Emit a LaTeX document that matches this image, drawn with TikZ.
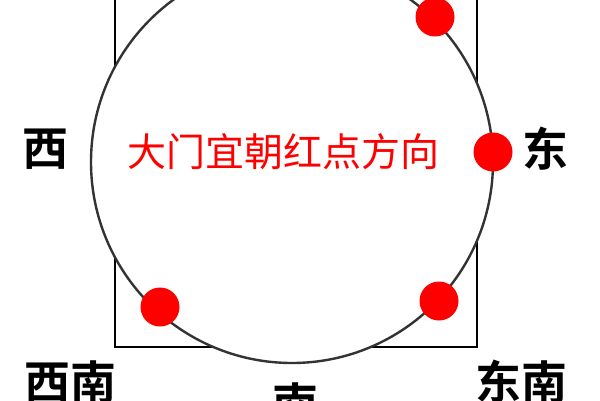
\documentclass[tikz,border=0pt]{standalone}
\usepackage{fontspec}
\newfontfamily\cjk{Noto Sans CJK SC}
\newfontfamily\cjkb{Noto Sans CJK SC Bold}
\begin{document}
\begin{tikzpicture}[x=1pt,y=-1pt,
  dir/.style={font=\cjkb\fontsize{46}{46}\selectfont, inner sep=0pt, anchor=center},
  dot/.style={circle, fill=red, minimum size=39pt, inner sep=0pt},
  note/.style={font=\cjk\fontsize{39}{39}\selectfont, text=red, inner sep=0pt, anchor=center}]
\useasboundingbox (0,0) rectangle (600,400);
\clip (0,0) rectangle (600,400);
\fill[white] (0,0) rectangle (600,400);
\draw[black, line width=2.6pt] (115,-10) -- (115,347) -- (477,347) -- (477,-10);
\draw[black!80, line width=2.4pt, fill=white] (292,162) circle (201);
\node[dot] (ne) at (435,17) {};
\node[dot] (e) at (493,152) {};
\node[dot] (sw) at (160,307) {};
\node[dot] (se) at (439,301) {};
\node[note] (t) at (283,152) {大门宜朝红点方向};
\node[dir] (w) at (46,149) {西};
\node[dir] (ea) at (545,149) {东};
\node[dir] (swl) at (70,382) {西南};
\node[dir] (sl) at (295,404) {南};
\node[dir] (sel) at (521,382) {东南};
\end{tikzpicture}
\end{document}
